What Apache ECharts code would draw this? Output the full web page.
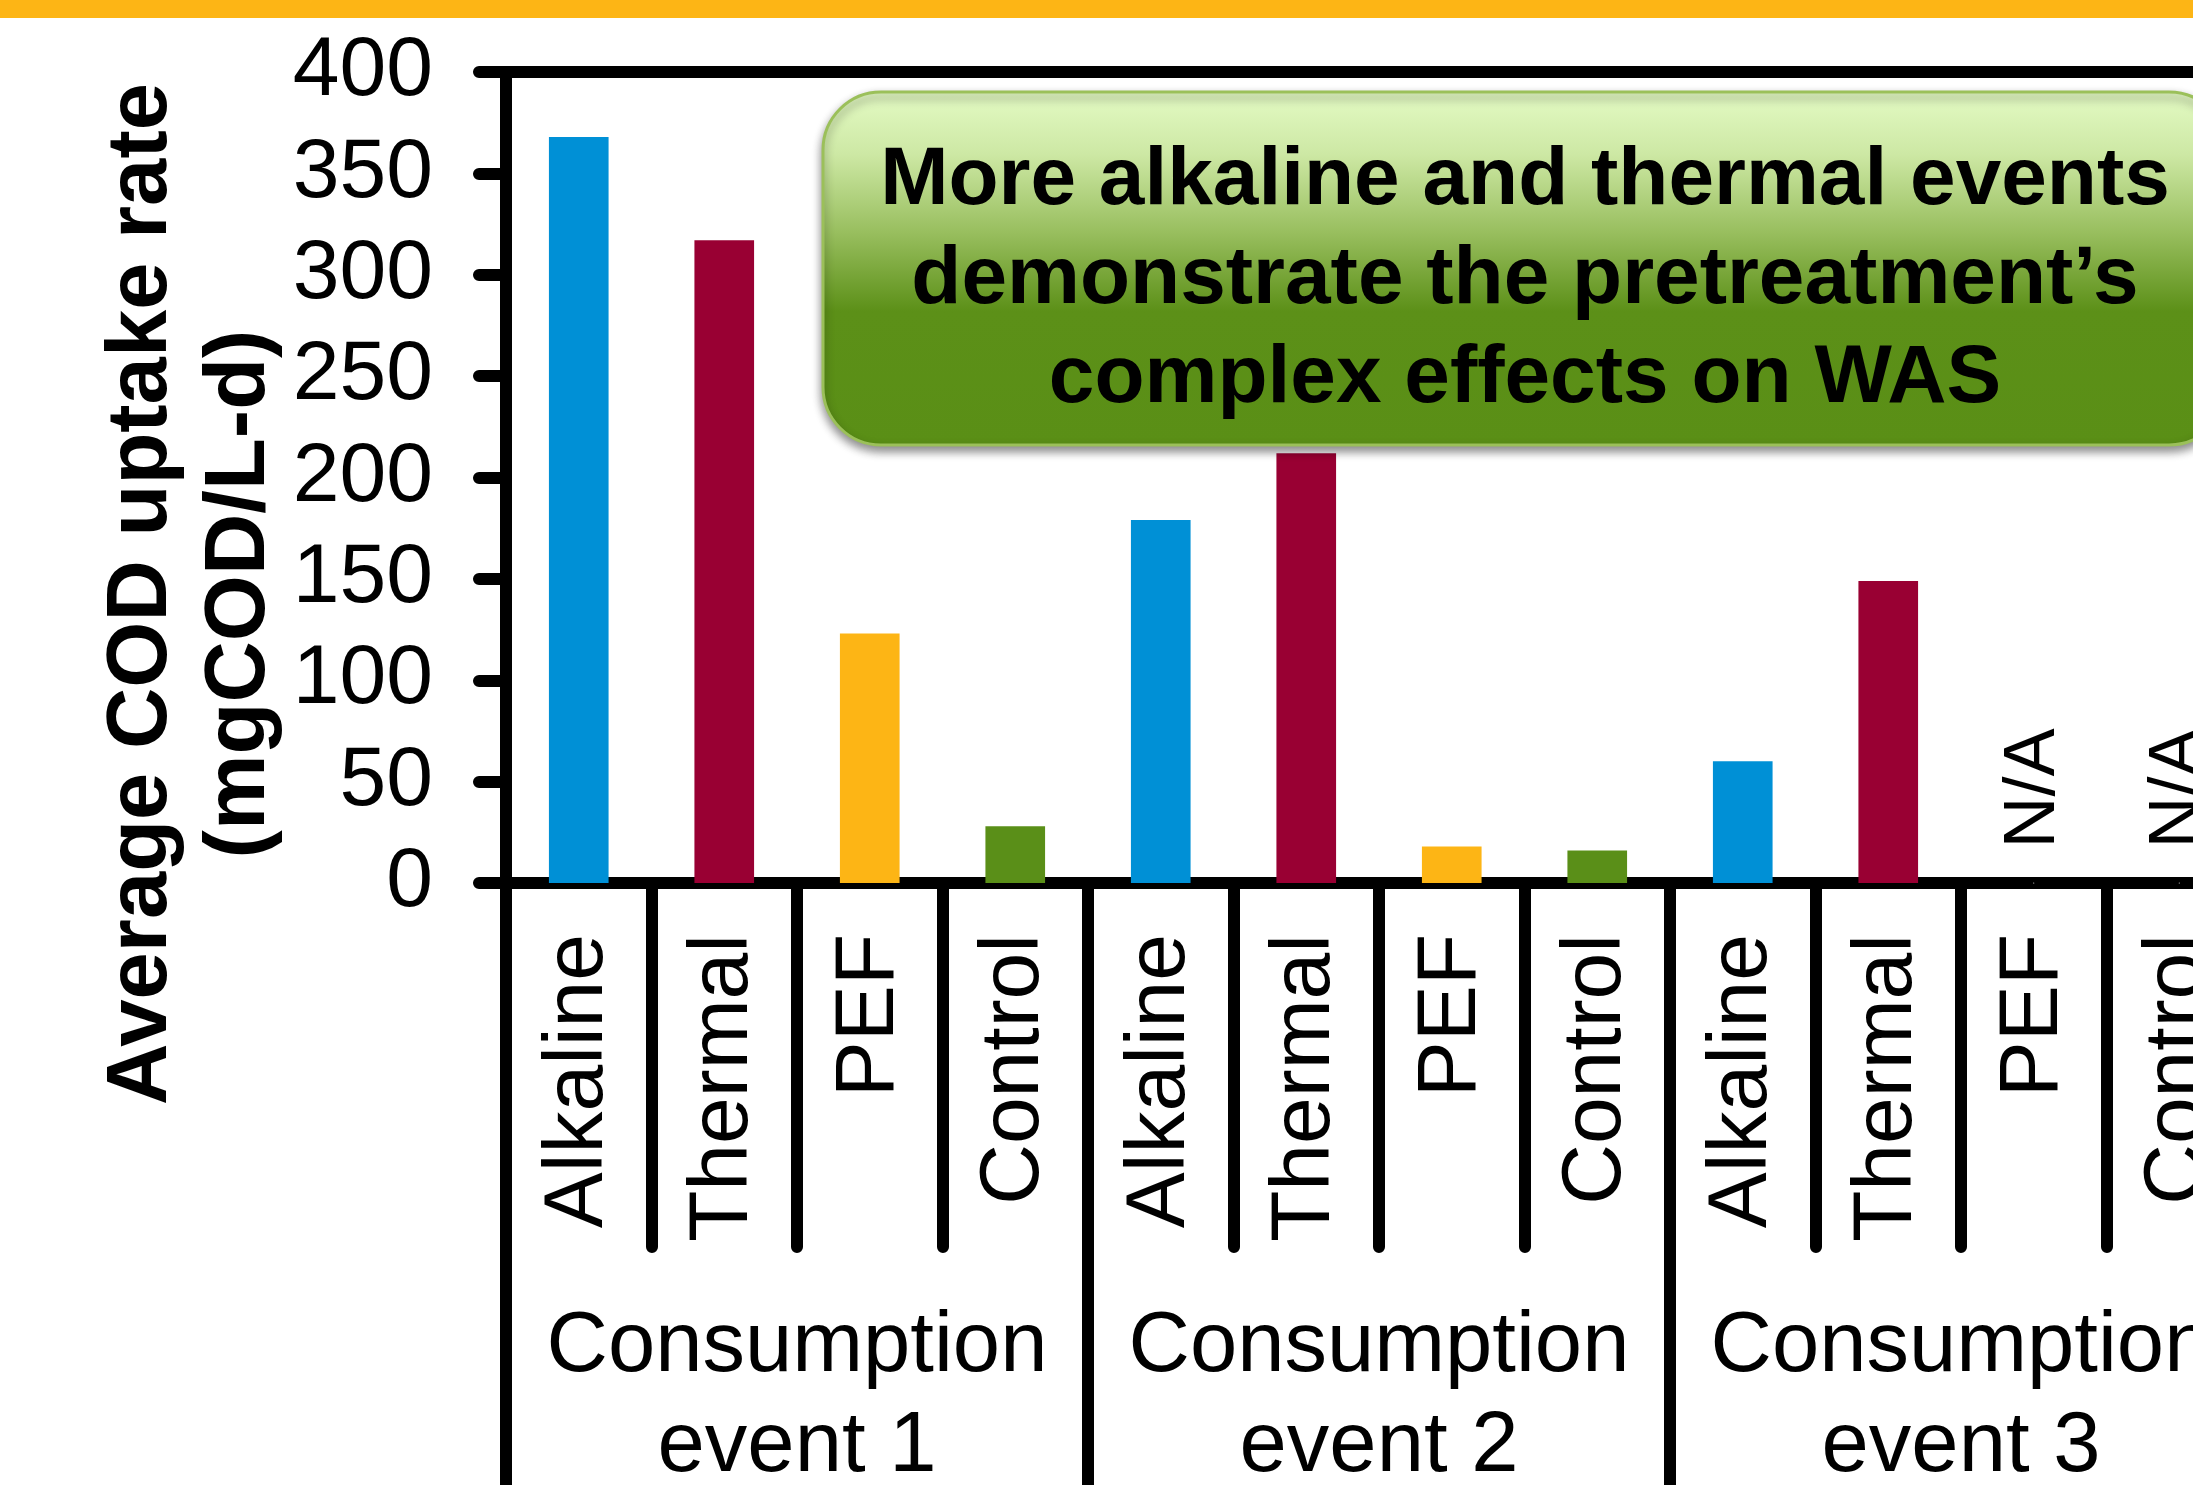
<!DOCTYPE html>
<html>
<head>
<meta charset="utf-8">
<script src="https://cdn.jsdelivr.net/npm/echarts@6/dist/echarts.min.js"></script>
<style>
  html, body { margin: 0; padding: 0; background: #ffffff; }
  #chart { width: 2193px; height: 1485px; }
</style>
</head>
<body>
<div id="chart"></div>
<script>
// Pretreatment types, repeated for each consumption event
const categories = [
  'Alkaline', 'Thermal', 'PEF', 'Control',
  'Alkaline', 'Thermal', 'PEF', 'Control',
  'Alkaline', 'Thermal', 'PEF', 'Control'
];
// Average COD uptake rate (mgCOD/L-d); null = not available
const uptakeRates = [368, 317, 123, 28, 179, 212, 18, 16, 60, 149, null, null];
// Consumption event groups (four categories each)
const groupLabels = ['Consumption\nevent 1', 'Consumption\nevent 2', 'Consumption\nevent 3'];
// Value axis range and step
const yMin = 0;
const yMax = 400;
const yStep = 50;
// Colour per pretreatment type
const treatmentColors = ['#0090D6', '#990033', '#FDB515', '#5A8F18'];
// Callout text
const calloutLines = [
  'More alkaline and thermal events',
  'demonstrate the pretreatment\u2019s',
  'complex effects on WAS'
];
const yAxisTitle = ['Average COD uptake rate', '(mgCOD/L-d)'];

const FONT = "'Liberation Sans', Arial, Helvetica, sans-serif";

const barData = uptakeRates.map((v, i) => ({
  value: v,
  itemStyle: { color: treatmentColors[i % treatmentColors.length] }
}));
// Categories without a measured value get an "N/A" marker on the baseline
const naData = uptakeRates
  .map((v, i) => (v === null ? [i, 0] : null))
  .filter(d => d !== null);

const chart = echarts.init(document.getElementById('chart'), null, { renderer: 'canvas' });

chart.setOption({
  animation: false,
  backgroundColor: '#ffffff',
  textStyle: { fontFamily: FONT, color: '#000' },
  grid: {
    left: 506, top: 72, width: 1746, height: 811,
    outerBoundsMode: 'none',
    containLabel: false,
    show: true, borderColor: '#000', borderWidth: 12,
    backgroundColor: 'transparent'
  },
  xAxis: [
    {
      type: 'category',
      data: categories,
      position: 'bottom',
      boundaryGap: true,
      axisLine: { show: true, lineStyle: { color: '#000', width: 12 } },
      axisTick: {
        show: true, interval: 0, length: 364, inside: false,
        lineStyle: { color: '#000', width: 12, cap: 'round' }
      },
      axisLabel: {
        interval: 0, rotate: 90, margin: 51,
        fontSize: 84, fontFamily: FONT, color: '#000'
      },
      splitLine: { show: false }
    },
    {
      type: 'category',
      data: groupLabels,
      position: 'bottom',
      boundaryGap: true,
      axisLine: { show: false },
      axisTick: {
        show: true, interval: 0, length: 640,
        lineStyle: { color: '#000', width: 12 }
      },
      axisLabel: {
        interval: 0, margin: 415, fontSize: 85, lineHeight: 100,
        fontFamily: FONT, color: '#000', verticalAlign: 'top'
      },
      splitLine: { show: false }
    }
  ],
  yAxis: {
    type: 'value',
    min: yMin, max: yMax, interval: yStep,
    axisLine: { show: true, lineStyle: { color: '#000', width: 12 } },
    axisTick: {
      show: true, length: 27, inside: false,
      lineStyle: { color: '#000', width: 12, cap: 'round' }
    },
    axisLabel: { margin: 73, fontSize: 84, fontFamily: FONT, color: '#000' },
    splitLine: { show: false }
  },
  series: [
    {
      type: 'bar',
      xAxisIndex: 0,
      data: barData,
      barWidth: '41%',
      z: 1
    },
    {
      type: 'scatter',
      xAxisIndex: 0,
      data: naData,
      symbolSize: 1,
      itemStyle: { color: '#ffffff', opacity: 1 },
      label: {
        show: true,
        formatter: 'N/A',
        position: 'top',
        distance: 34,
        rotate: 90,
        align: 'left',
        verticalAlign: 'middle',
        fontSize: 72,
        fontFamily: FONT,
        color: '#000',
        opacity: 1
      },
      z: 3
    }
  ],
  graphic: [
    // Slide header band
    {
      type: 'rect', z: 10,
      shape: { x: 0, y: 0, width: 2193, height: 18 },
      style: { fill: '#FDB515' }
    },
    // Callout box
    {
      type: 'rect', z: 20,
      shape: { x: 823, y: 92, width: 1404, height: 353, r: 58 },
      style: {
        fill: {
          type: 'linear', x: 0, y: 0, x2: 0, y2: 1,
          colorStops: [
            { offset: 0, color: '#E4FBC5' },
            { offset: 0.18, color: '#CDE8A4' },
            { offset: 0.4, color: '#98BE5E' },
            { offset: 0.62, color: '#5C9018' },
            { offset: 1, color: '#5A8F16' }
          ]
        },
        stroke: '#9BC05A',
        lineWidth: 3,
        shadowBlur: 10,
        shadowOffsetY: 5,
        shadowColor: 'rgba(0,0,0,0.45)'
      }
    },
    {
      type: 'text', z: 21,
      x: 1525, y: 280,
      style: {
        text: calloutLines.join('\n'),
        font: "bold 82px " + FONT,
        fill: '#000',
        align: 'center',
        verticalAlign: 'middle',
        lineHeight: 99
      }
    },
    // Value axis title
    {
      type: 'text', z: 21,
      x: 192, y: 594,
      rotation: Math.PI / 2,
      style: {
        text: yAxisTitle.join('\n'),
        font: "bold 85px " + FONT,
        fill: '#000',
        align: 'center',
        verticalAlign: 'middle',
        lineHeight: 98
      }
    }
  ]
});
</script>
</body>
</html>
